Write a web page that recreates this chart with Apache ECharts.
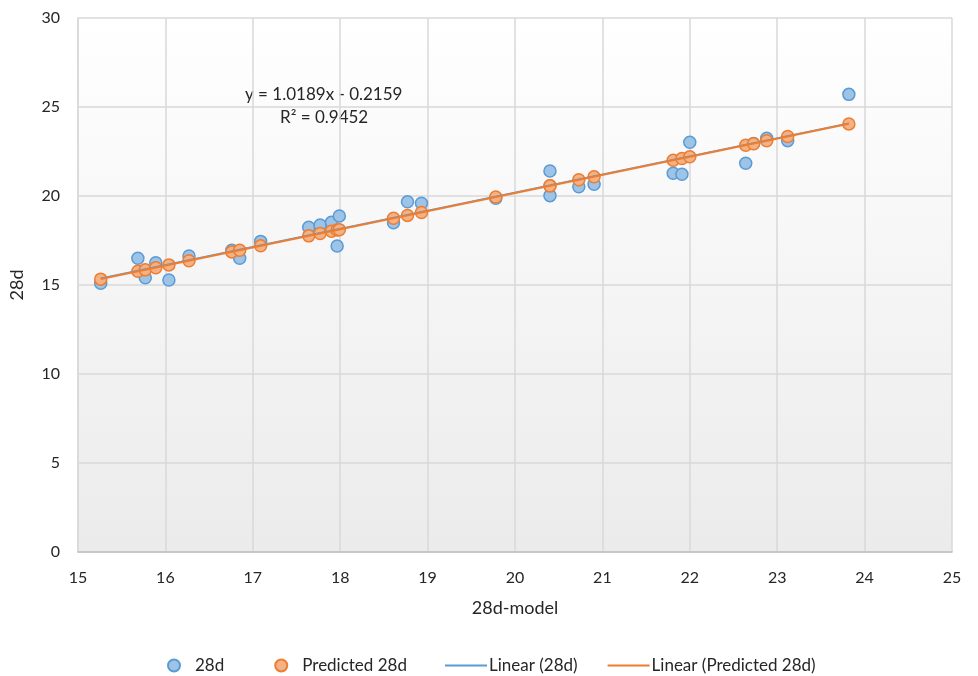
<!DOCTYPE html>
<html>
<head>
<meta charset="utf-8">
<script src="https://cdn.jsdelivr.net/npm/echarts@6/dist/echarts.min.js"></script>
<style>html,body{margin:0;padding:0;background:#fff;}#c{width:978px;height:676px;}</style>
</head>
<body>
<div id="c"></div>
<script>
// 28d-model (x) values
var modelX = [15.26, 15.685, 15.77, 15.89, 16.04, 16.27, 16.76, 16.85, 17.09, 17.64, 17.77, 17.90, 17.965, 17.99,
  18.61, 18.77, 18.93, 19.78, 20.40, 20.40, 20.73, 20.905, 21.81, 21.91, 22.00, 22.64, 22.73, 22.88, 23.12, 23.82];
// measured 28d
var actual28d = [15.10, 16.50, 15.41, 16.25, 15.28, 16.63, 16.95, 16.50, 17.45, 18.24, 18.37, 18.52, 17.19, 18.88,
  18.50, 19.68, 19.59, 19.87, 21.40, 20.02, 20.52, 20.66, 21.28, 21.22, 23.02, 21.84, 22.95, 23.24, 23.11, 25.71];
// predicted 28d
var predicted28d = [15.33, 15.77, 15.85, 15.97, 16.13, 16.36, 16.86, 16.95, 17.20, 17.76, 17.89, 18.02, 18.09, 18.11,
  18.75, 18.91, 19.07, 19.94, 20.57, 20.57, 20.91, 21.08, 22.01, 22.11, 22.20, 22.85, 22.94, 23.10, 23.34, 24.05];
var seriesNames = ['28d', 'Predicted 28d', 'Linear (28d)', 'Linear (Predicted 28d)'];
var eqLabel = 'y = 1.0189x - 0.2159';
var r2Label = 'R\u00B2 = 0.9452';

function pairs(xs, ys) { return xs.map(function (x, i) { return [x, ys[i]]; }); }
function fitLine(xs, ys) {
  var n = xs.length, sx = 0, sy = 0, sxx = 0, sxy = 0;
  for (var i = 0; i < n; i++) { sx += xs[i]; sy += ys[i]; sxx += xs[i] * xs[i]; sxy += xs[i] * ys[i]; }
  var b = (n * sxy - sx * sy) / (n * sxx - sx * sx), a = (sy - b * sx) / n;
  var x0 = Math.min.apply(null, xs), x1 = Math.max.apply(null, xs);
  return [[x0, a + b * x0], [x1, a + b * x1]];
}

var FONT = 'Lato, "Liberation Sans", sans-serif';
var TXT = '#262626';
var chart = echarts.init(document.getElementById('c'), null, { renderer: 'canvas' });
chart.setOption({
  animation: false,
  backgroundColor: '#ffffff',
  textStyle: { fontFamily: FONT },
  grid: {
    left: 76, right: 26, top: 18, bottom: 124, show: true, borderWidth: 0,
    backgroundColor: new echarts.graphic.LinearGradient(0, 0, 0, 1, [
      { offset: 0, color: '#ffffff' }, { offset: 1, color: '#ebebeb' }])
  },
  xAxis: {
    type: 'value', min: 15, max: 25, interval: 1,
    name: '28d-model', nameLocation: 'middle', nameGap: 47,
    nameTextStyle: { fontSize: 18, color: TXT, fontFamily: FONT },
    axisLine: { show: true, onZero: false, lineStyle: { color: '#bfbfbf', width: 1.5 } },
    axisTick: { show: false },
    axisLabel: { fontSize: 16, color: TXT, margin: 18, fontFamily: FONT },
    splitLine: { show: true, lineStyle: { color: '#d9d9d9', width: 1.5 } }
  },
  yAxis: {
    type: 'value', min: 0, max: 30, interval: 5,
    name: '28d', nameLocation: 'middle', nameGap: 52, nameRotate: 90,
    nameTextStyle: { fontSize: 18, color: TXT, fontFamily: FONT },
    axisLine: { show: true, lineStyle: { color: '#d9d9d9', width: 1.5 } },
    axisTick: { show: false },
    axisLabel: { fontSize: 16, color: TXT, margin: 18, fontFamily: FONT },
    splitLine: { show: true, lineStyle: { color: '#d9d9d9', width: 1.5 } }
  },
  legend: [{
    data: [seriesNames[0], seriesNames[1]],
    left: 162, top: 652, icon: 'circle', itemWidth: 12, itemHeight: 12, itemGap: 50,
    textStyle: { fontSize: 17, color: TXT, fontFamily: FONT, padding: [0, 0, 0, 10] }
  }, {
    data: [
      { name: seriesNames[2], icon: 'rect' },
      { name: seriesNames[3], icon: 'rect' }
    ],
    left: 440, top: 652, itemWidth: 42, itemHeight: 2, itemGap: 30,
    textStyle: { fontSize: 17, color: TXT, fontFamily: FONT, padding: [0, 0, 0, -3] }
  }],
  graphic: [{
    type: 'text', left: 245, top: 86,
    style: { text: eqLabel, fontSize: 17, fill: TXT, fontFamily: FONT }
  }, {
    type: 'text', left: 280, top: 109,
    style: { text: r2Label, fontSize: 17, fill: TXT, fontFamily: FONT }
  }],
  series: [{
    name: seriesNames[0], type: 'scatter', data: pairs(modelX, actual28d),
    symbol: 'circle', symbolSize: 12, z: 3,
    itemStyle: { color: '#9dc3e6', borderColor: '#5b9bd5', borderWidth: 1.5, opacity: 1 }
  }, {
    name: seriesNames[1], type: 'scatter', data: pairs(modelX, predicted28d),
    symbol: 'circle', symbolSize: 12, z: 4,
    itemStyle: { color: '#f4b183', borderColor: '#ed7d31', borderWidth: 1.5, opacity: 1 }
  }, {
    name: seriesNames[2], type: 'line', data: fitLine(modelX, actual28d),
    showSymbol: false, symbol: 'none', z: 5, silent: true,
    lineStyle: { color: '#5b9bd5', width: 1.5 }, itemStyle: { color: '#5b9bd5' }
  }, {
    name: seriesNames[3], type: 'line', data: fitLine(modelX, predicted28d),
    showSymbol: false, symbol: 'none', z: 6, silent: true,
    lineStyle: { color: '#ed7d31', width: 2 }, itemStyle: { color: '#ed7d31' }
  }]
});
</script>
</body>
</html>
